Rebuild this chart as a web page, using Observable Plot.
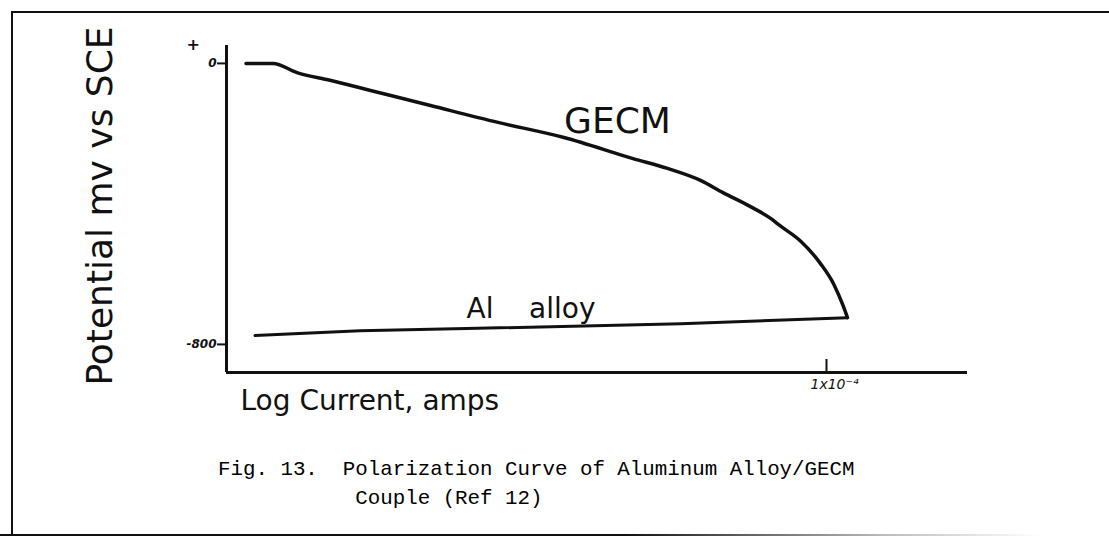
<!DOCTYPE html>
<html>
<head>
<meta charset="utf-8">
<script src="https://cdn.jsdelivr.net/npm/d3@7"></script>
<script src="https://cdn.jsdelivr.net/npm/@observablehq/plot@0.6"></script>
<style>
  html, body { margin: 0; padding: 0; background: #fff; }
  body { width: 1109px; height: 538px; position: relative; overflow: hidden; }
  #frame { position: absolute; left: 11px; top: 11px; width: 1098px; height: 522px;
           border-top: 2px solid #111; border-left: 2px solid #111; pointer-events: none; }
  #bottomline { position: absolute; left: 0; top: 534px; width: 1040px; height: 2px;
           background: linear-gradient(to right, #111 0%, #111 60%, #bbb 85%, rgba(255,255,255,0) 100%); }
  #chart svg { display: block; }
  #caption { font-family: "Liberation Mono", monospace; font-size: 20.8px; line-height: 29px;
             white-space: pre; color: #000; padding-left: 218px; margin-top: 15px; }
</style>
</head>
<body>
<div id="frame"></div>
<div id="bottomline"></div>
<div id="chart"></div>
<div id="caption"></div>
<script>
// ---- data (x = log10 of current in amps, y = potential in mV vs SCE) ----
const gecmLogI = [-7.87, -7.69, -7.53, -7.31, -7.04, -6.64, -6.19, -5.75, -5.29, -5.06, -4.84, -4.69, -4.51, -4.37, -4.31, -4.17, -4.04, -3.95, -3.89, -3.86];
const gecmMv   = [0, 0, -26, -48, -77, -120, -168, -211, -271, -299, -333, -368, -407, -442, -462, -507, -570, -630, -689, -724];
const alLogI   = [-7.81, -7.11, -6.40, -4.97, -3.86];
const alMv     = [-775, -761, -755, -741, -724];

const xTicks = [-4];
const xTickLabels = ["1x10\u207B\u2074"];
const yTicks = [0, -800];
const yTickLabels = ["0", "-800"];
const xDomain = [-8, -3.06];
const yDomain = [-880, 51];

const seriesNames = ["GECM", "Al\u00a0\u00a0\u00a0\u00a0alloy"];
const xLabel = "Log Current, amps";
const yLabel = "Potential mv vs SCE";
const plusLabel = "+";
const captionLines = ["Fig. 13.  Polarization Curve of Aluminum Alloy/GECM",
                      "           Couple (Ref 12)"];

const gecm = gecmLogI.map((x, i) => ({x, y: gecmMv[i]}));
const al = alLogI.map((x, i) => ({x, y: alMv[i]}));

const font = "'DejaVu Sans', sans-serif";

const chart = Plot.plot({
  width: 1109,
  height: 440,
  marginLeft: 226,
  marginRight: 142,
  marginTop: 45,
  marginBottom: 68,
  style: {background: "transparent", fontFamily: font, color: "#111", overflow: "visible"},
  x: {domain: xDomain},
  y: {domain: yDomain},
  marks: [
    Plot.ruleX([xDomain[0]], {stroke: "#111", strokeWidth: 3}),
    Plot.ruleY([yDomain[0]], {stroke: "#111", strokeWidth: 3}),
    Plot.axisY({ticks: yTicks, tickSize: 9, tickPadding: 1, strokeWidth: 2,
                tickFormat: d => yTickLabels[yTicks.indexOf(d)],
                fontSize: 12, fontWeight: "bold", fontStyle: "italic", label: null}),
    Plot.axisX({ticks: xTicks, tickSize: -13, strokeWidth: 2, tickFormat: () => "", label: null}),
    Plot.axisX({ticks: xTicks, tickSize: 0, tickPadding: 7, dx: 8,
                tickFormat: d => xTickLabels[xTicks.indexOf(d)],
                fontSize: 14, fontStyle: "italic", label: null}),
    Plot.line(gecm, {x: "x", y: "y", stroke: "#111", strokeWidth: 3.5, curve: "monotone-x"}),
    Plot.line(al, {x: "x", y: "y", stroke: "#111", strokeWidth: 3, curve: "linear"}),
    Plot.text([gecm[7]], {x: "x", y: "y", text: () => seriesNames[0], textAnchor: "start",
                          lineAnchor: "bottom", dy: -5, fontSize: 36, fill: "#111"}),
    Plot.text([al[2]], {x: "x", y: "y", text: () => seriesNames[1], textAnchor: "start",
                        lineAnchor: "bottom", dy: -11, fontSize: 28, fill: "#111"}),
    Plot.text([plusLabel], {frameAnchor: "top-left", dx: -40, dy: -7, fontSize: 16,
                            fontWeight: "bold", fill: "#111"}),
    Plot.text([yLabel], {frameAnchor: "left", dx: -126, dy: -3, rotate: -90, textAnchor: "middle",
                         lineAnchor: "middle", fontSize: 36, fill: "#111"}),
    Plot.text([xLabel], {frameAnchor: "bottom-left", dx: 14, dy: 18, textAnchor: "start",
                         lineAnchor: "top", fontSize: 28, fill: "#111"})
  ]
});
document.getElementById("chart").append(chart);
document.getElementById("caption").textContent = captionLines.join("\n");
</script>
</body>
</html>
